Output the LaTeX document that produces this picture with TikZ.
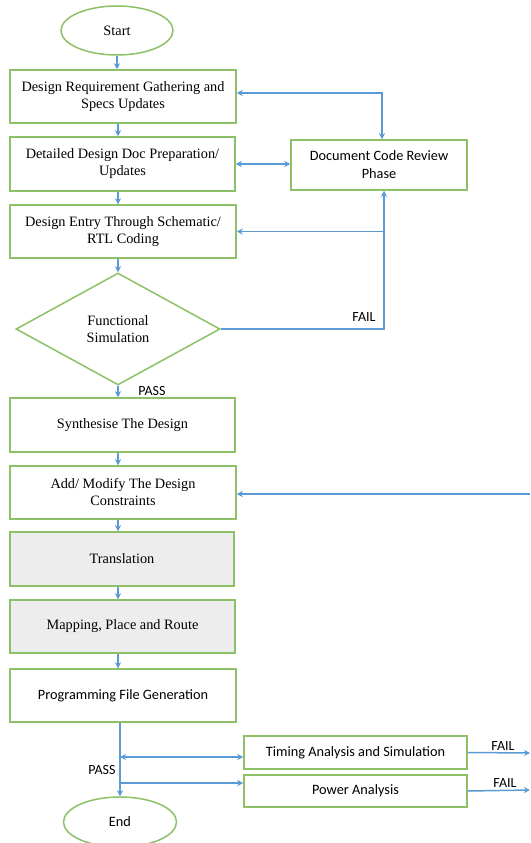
\documentclass[tikz,border=0pt]{standalone}
\usepackage{fontspec}
\setmainfont{Liberation Serif}
\newfontfamily\calib{Carlito}
\usetikzlibrary{shapes.geometric,arrows.meta}
\definecolor{bgreen}{HTML}{8CC168}
\definecolor{ablue}{HTML}{5B9BD5}
\definecolor{lgray}{HTML}{EDEDED}
\begin{document}
\begin{tikzpicture}[x=1pt,y=-1pt,
  box/.style={draw=bgreen, line width=1.5pt, rectangle, inner sep=0pt, align=center,
    font=\fontsize{14.3}{17}\selectfont},
  sbox/.style={box, font=\calib\fontsize{14.3}{18}\selectfont},
  term/.style={draw=bgreen, line width=1.5pt, ellipse, inner sep=0pt},
  arr/.style={draw=ablue, line width=1.5pt, -{Stealth[length=6pt,width=6pt]}},
  arrboth/.style={draw=ablue, line width=1.5pt, {Stealth[length=6pt,width=6pt]}-{Stealth[length=6pt,width=6pt]}},
  lbl/.style={font=\calib\fontsize{14}{16}\selectfont, inner sep=1pt, fill=white}
]
\useasboundingbox (0,0) rectangle (530,843);
\fill[white] (0,0) rectangle (530,843);

% nodes
\node[term, minimum width=112pt, minimum height=49pt, font=\fontsize{14.3}{17}\selectfont] (start) at (117,30.5) {Start};
\node[box, minimum width=226pt, minimum height=53pt] (b1) at (123,96.5) {Design Requirement Gathering and\\Specs Updates};
\node[box, minimum width=225pt, minimum height=54pt] (b2) at (122.5,164) {Detailed Design Doc Preparation/\\Updates};
\node[box, minimum width=226pt, minimum height=53pt] (b3) at (123,231.5) {Design Entry Through Schematic/\\RTL Coding};
\node[sbox, minimum width=176pt, minimum height=50pt] (rev) at (379,165) {Document Code Review\\Phase};
\node[draw=bgreen, line width=1.5pt, diamond, inner sep=0pt, minimum width=204pt, minimum height=112pt,
  align=center, font=\fontsize{14.3}{17}\selectfont] (dia) at (118,329) {Functional\\Simulation};
\node[box, minimum width=225pt, minimum height=54pt] (synth) at (122.5,425) {Synthesise The Design};
\node[box, minimum width=226pt, minimum height=53pt] (add) at (123,492.5) {Add/ Modify The Design\\Constraints};
\node[box, fill=lgray, minimum width=224pt, minimum height=54pt] (trans) at (122,559) {Translation};
\node[box, fill=lgray, minimum width=225pt, minimum height=53pt] (map) at (122.5,626.5) {Mapping, Place and Route};
\node[sbox, minimum width=226pt, minimum height=53pt] (prog) at (123,695.5) {Programming File Generation};
\node[sbox, minimum width=223pt, minimum height=33pt] (tim) at (355.5,752.5) {Timing Analysis and Simulation};
\node[sbox, minimum width=223pt, minimum height=32pt] (pow) at (355.5,791) {Power Analysis};
\node[term, minimum width=113pt, minimum height=50pt, font=\calib\fontsize{14.3}{17}\selectfont] (end) at (120,822) {End};

% helper coordinates
\coordinate (cx) at (118,0);
\coordinate (px) at (120,0);
\coordinate (fb) at (384,329);
\coordinate (addin) at (530,494);
\coordinate (tj) at (120,757);
\coordinate (pj) at (120,783);
\coordinate (tf) at (530,753);
\coordinate (pf) at (530,790);

% main column
\draw[arr] (start.south) -- (b1.north -| start.south);
\draw[arr] (b1.south -| cx) -- (b2.north -| cx);
\draw[arr] (b2.south -| cx) -- (b3.north -| cx);
\draw[arr] (b3.south -| cx) -- (dia.north -| cx);
\draw[arr] (dia.south) -- (synth.north -| dia.south);
\draw[arr] (synth.south -| cx) -- (add.north -| cx);
\draw[arr] (add.south -| cx) -- (trans.north -| cx);
\draw[arr] (trans.south -| cx) -- (map.north -| cx);
\draw[arr] (map.south -| cx) -- (prog.north -| cx);
\draw[arr] (prog.south -| px) -- (end.north -| px);

% review loop
\draw[arrboth] ([yshift=3.5pt]b1.east) -| ([xshift=3pt]rev.north);
\draw[arrboth] (b2.east) -- (b2.east -| rev.west);
\draw[arr] (dia.east) -- (fb) -- (fb |- rev.south);
\draw[arr] (fb |- b3.east) -- (b3.east);
\node[lbl] (fail1) at (364,317) {FAIL};
\node[lbl] (pass1) at (152,391) {PASS};

% constraints feedback
\draw[arr] (addin) -- (addin -| add.east);

% analysis
\draw[arrboth] (tj) -- (tj -| tim.west);
\draw[arr] (pj) -- (pj -| pow.west);
\draw[arr] (tim.east) -- (tf);
\draw[arr] (pow.east) -- (pf);
\node[lbl, fill=none] (fail2) at (503,746) {FAIL};
\node[lbl, fill=none] (fail3) at (505,783) {FAIL};
\node[lbl, fill=none] (pass2) at (102,770) {PASS};
\end{tikzpicture}
\end{document}
